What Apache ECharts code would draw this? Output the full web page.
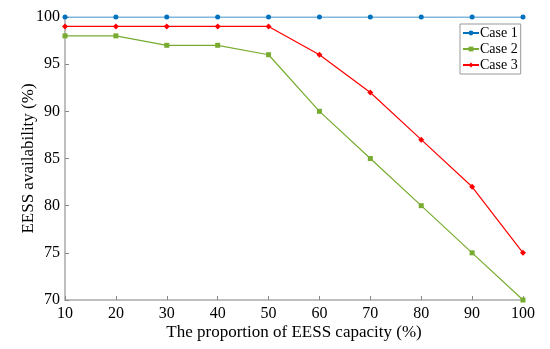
<!DOCTYPE html>
<html><head><meta charset="utf-8">
<script src="https://cdn.jsdelivr.net/npm/echarts@6/dist/echarts.min.js"></script>
<style>html,body{margin:0;padding:0;background:#fff}#c{width:550px;height:349px}</style>
</head><body><div id="c"></div>
<script>
var xValues = [10, 20, 30, 40, 50, 60, 70, 80, 90, 100];
var case1 = [100, 100, 100, 100, 100, 100, 100, 100, 100, 100];
var case2 = [98, 98, 97, 97, 96, 90, 85, 80, 75, 70];
var case3 = [99, 99, 99, 99, 99, 96, 92, 87, 82, 75];
var seriesNames = ['Case 1', 'Case 2', 'Case 3'];

function pairs(v){ return xValues.map(function(x,i){ return [x, v[i]]; }); }
var FONT = '"Liberation Serif","Times New Roman",serif';
var chart = echarts.init(document.getElementById('c'));
function mk(name, data, color, symbol, size){
  return {name:name, type:'line', data:pairs(data), symbol:symbol, symbolSize:size,
    lineStyle:{color:color, width:1.2}, itemStyle:{color:color}, animation:false};
}
chart.setOption({
  animation:false,
  textStyle:{fontFamily:FONT},
  grid:{left:65, right:27, top:17, bottom:49},
  legend:{orient:'vertical', left:460, top:24, data:seriesNames,
    borderColor:'#999', borderWidth:1, padding:[2,3,2,2], itemGap:2,
    itemWidth:16, itemHeight:6, backgroundColor:'#fff',
    textStyle:{fontFamily:FONT, fontSize:14, color:'#000', padding:[0,0,0,-4]}},
  xAxis:{type:'value', min:10, max:100, interval:10,
    name:'The proportion of EESS capacity (%)', nameLocation:'middle', nameGap:24,
    nameMoveOverlap:false,
    nameTextStyle:{fontFamily:FONT, fontSize:17, color:'#000'},
    axisLine:{lineStyle:{color:'#aaa', width:1.5}},
    axisTick:{inside:true, length:4, lineStyle:{color:'#888'}},
    axisLabel:{fontFamily:FONT, fontSize:16, color:'#000', margin:6},
    splitLine:{show:false}},
  yAxis:{type:'value', min:70, max:100, interval:5,
    name:'EESS availability (%)', nameLocation:'middle', nameGap:28,
    nameMoveOverlap:false,
    nameTextStyle:{fontFamily:FONT, fontSize:17, color:'#000'},
    axisLine:{show:true, lineStyle:{color:'#aaa', width:1.5}},
    axisTick:{show:true, inside:true, length:4, lineStyle:{color:'#888'}},
    axisLabel:{fontFamily:FONT, fontSize:16, color:'#000', margin:5},
    splitLine:{show:false}},
  series:[
    mk(seriesNames[0], case1, '#0072BD', 'circle', 5),
    mk(seriesNames[1], case2, '#77AC30', 'rect', 5),
    mk(seriesNames[2], case3, '#FF0000', 'diamond', 6)
  ]
});
</script></body></html>
